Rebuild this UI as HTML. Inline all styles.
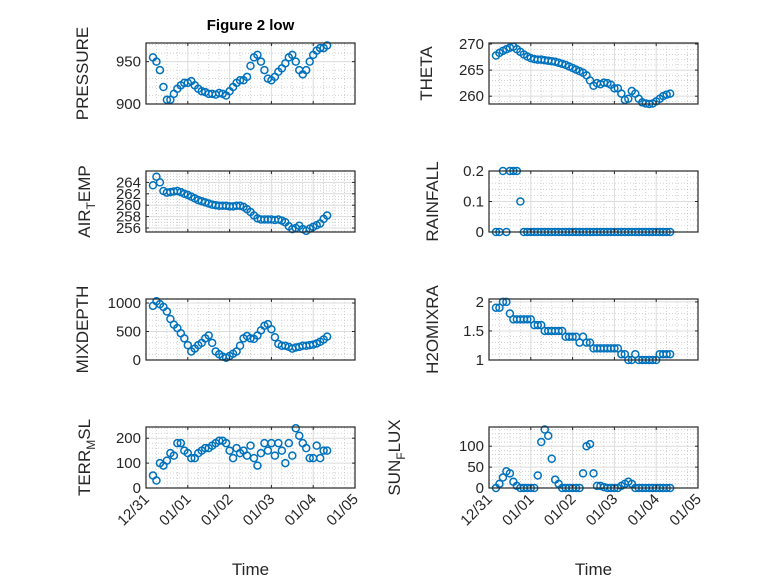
<!DOCTYPE html>
<html><head><meta charset="utf-8"><style>
html,body{margin:0;padding:0;background:#fff;}
svg{display:block;font-family:"Liberation Sans","DejaVu Sans",sans-serif;}
</style></head><body>
<svg id="fig" width="778" height="583" viewBox="0 0 778 583" xmlns="http://www.w3.org/2000/svg">
<rect width="778" height="583" fill="#fff"/>
</svg>
<script>
// shared time axis (hours since 12/31 00:00)
const hours = [4,6,8,10,12,14,16,18,20,22,24,26,28,30,32,34,36,38,40,42,44,46,48,50,52,54,56,58,60,62,64,66,68,70,72,74,76,78,80,82,84,86,88,90,92,94,96,98,100,102,104];
const xTickLabels = ["12/31","01/01","01/02","01/03","01/04","01/05"];
const xTickHours = [0,24,48,72,96,120];
const pressure = [955,950,940,920,905,905,912,918,922,925,925,927,922,918,915,914,912,912,911,913,912,910,915,920,925,928,928,932,945,955,958,950,940,930,928,932,938,942,948,955,958,950,940,935,940,950,958,963,966,966,969];
const airTemp = [263.5,265,264,262.5,262.2,262.3,262.4,262.5,262.3,262,261.8,261.5,261.2,260.9,260.7,260.5,260.3,260.1,260,259.9,259.9,259.9,259.8,259.8,259.9,259.9,259.7,259.3,258.8,258.2,257.7,257.5,257.5,257.5,257.5,257.4,257.5,257.3,257,256.3,255.8,256,256.4,255.8,255.5,255.9,256.2,256.5,256.8,257.6,258.2];
const theta = [267.8,268.3,268.7,269,269.3,269.5,269,268.5,268,267.6,267.3,267.1,267,267,266.9,266.8,266.7,266.6,266.4,266.2,266,265.7,265.4,265.1,264.8,264.5,264,263,262,262.5,262.3,262.6,262.5,262.2,261.5,261.5,260.5,259.3,259.5,261,260.5,259.5,258.8,258.6,258.5,258.6,259,259.5,260,260.3,260.5];
const rainfall = [0,0,0.2,0,0.2,0.2,0.2,0.1,0,0,0,0,0,0,0,0,0,0,0,0,0,0,0,0,0,0,0,0,0,0,0,0,0,0,0,0,0,0,0,0,0,0,0,0,0,0,0,0,0,0,0];
const mixDepth = [950,1030,980,930,850,720,620,560,470,380,260,150,200,260,300,380,430,300,150,100,60,40,70,110,150,250,380,420,380,370,430,520,600,630,540,400,280,250,250,230,200,220,230,250,250,260,270,290,320,360,410];
const h2oMix = [1.9,1.9,2.0,2.0,1.8,1.7,1.7,1.7,1.7,1.7,1.7,1.6,1.6,1.6,1.5,1.5,1.5,1.5,1.5,1.5,1.4,1.4,1.4,1.4,1.3,1.4,1.3,1.3,1.2,1.2,1.2,1.2,1.2,1.2,1.2,1.2,1.1,1.1,1.0,1.0,1.1,1.0,1.0,1.0,1.0,1.0,1.0,1.1,1.1,1.1,1.1];
const terrMsl = [50,30,100,90,110,140,130,180,180,150,140,120,120,140,150,160,160,170,180,190,190,180,150,120,160,140,150,130,170,120,90,140,180,150,180,130,180,150,100,180,130,240,210,180,160,120,120,170,120,150,150];
const sunFlux = [0,10,25,40,35,15,5,0,0,0,0,0,30,110,140,125,70,20,10,0,0,0,0,0,0,35,100,105,35,5,5,2,0,0,0,0,5,10,15,10,0,0,0,0,0,0,0,0,0,0,0];

const NS = "http://www.w3.org/2000/svg";
const svg = document.getElementById('fig');
function mk(tag, attrs, parent){const e=document.createElementNS(NS,tag);for(const k in attrs)e.setAttribute(k,attrs[k]);(parent||svg).appendChild(e);return e;}

const panels = [
 {name:'pressure',x:146,y:43,data:pressure,ylim:[900,972],ticks:[900,950],minor:10,label:['PRESSURE'],lx:88,xlab:false},
 {name:'theta',x:489,y:43,data:theta,ylim:[258.5,270.2],ticks:[260,265,270],minor:1,label:['THETA'],lx:432,xlab:false},
 {name:'air-temp',x:146,y:171,data:airTemp,ylim:[255.3,266],ticks:[256,258,260,262,264],minor:0.5,label:['AIR','T','EMP'],lx:90,xlab:false},
 {name:'rainfall',x:489,y:171,data:rainfall,ylim:[0,0.2],ticks:[0,0.1,0.2],minor:0.02,label:['RAINFALL'],lx:438,xlab:false},
 {name:'mixdepth',x:146,y:299,data:mixDepth,ylim:[0,1070],ticks:[0,500,1000],minor:100,label:['MIXDEPTH'],lx:88,xlab:false},
 {name:'h2omixra',x:489,y:299,data:h2oMix,ylim:[1,2.05],ticks:[1,1.5,2],minor:0.1,label:['H2OMIXRA'],lx:438,xlab:false},
 {name:'terr-msl',x:146,y:427,data:terrMsl,ylim:[0,245],ticks:[0,100,200],minor:20,label:['TERR','M','SL'],lx:90,xlab:true},
 {name:'sun-flux',x:489,y:427,data:sunFlux,ylim:[0,146],ticks:[0,50,100],minor:10,label:['SUN','F','LUX'],lx:400,xlab:true}
];
const W=209,H=61;
panels.forEach(p=>{
  const g=mk('g',{});
  
  
  const xs=h=>p.x+h/120*W;
  const ys=v=>p.y+H-(v-p.ylim[0])/(p.ylim[1]-p.ylim[0])*H;
  for(let h=0;h<=120;h+=6){ if(h%24===0)continue; mk('line',{x1:xs(h),x2:xs(h),y1:p.y,y2:p.y+H,stroke:'#c8c8c8','stroke-width':0.8,'stroke-dasharray':'1 2'},g);}
  const m0=Math.ceil(p.ylim[0]/p.minor-1e-6);
  for(let k=m0;k*p.minor<=p.ylim[1]+1e-9;k++){const v=k*p.minor; if(p.ticks.some(t=>Math.abs(t-v)<1e-6))continue; mk('line',{x1:p.x,x2:p.x+W,y1:ys(v),y2:ys(v),stroke:'#c8c8c8','stroke-width':0.8,'stroke-dasharray':'1 2'},g);}
  xTickHours.forEach(h=>mk('line',{x1:xs(h),x2:xs(h),y1:p.y,y2:p.y+H,stroke:'#dcdcdc','stroke-width':1},g));
  p.ticks.forEach(v=>mk('line',{x1:p.x,x2:p.x+W,y1:ys(v),y2:ys(v),stroke:'#dcdcdc','stroke-width':1},g));
  p.data.forEach((v,i)=>{
    const c=mk('circle',{cx:xs(hours[i]),cy:ys(v),r:3.5,fill:'none',stroke:'#0072BD','stroke-width':1.5},g);
    
    
  });
  mk('rect',{x:p.x,y:p.y,width:W,height:H,fill:'none',stroke:'#262626','stroke-width':1.2},g);
  xTickHours.forEach(h=>{mk('line',{x1:xs(h),x2:xs(h),y1:p.y+H,y2:p.y+H-3,stroke:'#262626'},g);mk('line',{x1:xs(h),x2:xs(h),y1:p.y,y2:p.y+3,stroke:'#262626'},g);});
  p.ticks.forEach(v=>{
    mk('line',{x1:p.x,x2:p.x+3,y1:ys(v),y2:ys(v),stroke:'#262626'},g);
    mk('line',{x1:p.x+W,x2:p.x+W-3,y1:ys(v),y2:ys(v),stroke:'#262626'},g);
    const t=mk('text',{x:p.x-5,y:ys(v)+5,'text-anchor':'end','font-size':15,fill:'#262626'},g);
    t.textContent=String(v);
    
    
  });
  const cy=p.y+H/2;
  const yl=mk('text',{x:p.lx,y:cy,'text-anchor':'middle','font-size':17,fill:'#262626',transform:`rotate(-90 ${p.lx} ${cy})`},g);
  
  
  if(p.label.length===1){ yl.textContent=p.label[0]; }
  else{
    const a=mk('tspan',{},yl); a.textContent=p.label[0];
    const b=mk('tspan',{dy:5,'font-size':12},yl); b.textContent=p.label[1];
    const c=mk('tspan',{dy:-5},yl); c.textContent=p.label[2];
  }
  if(p.xlab){
    xTickHours.forEach((h,i)=>{
      const tx=xs(h)+4, ty=p.y+H+12;
      const t=mk('text',{x:tx,y:ty,'text-anchor':'end','font-size':15,fill:'#262626',transform:`rotate(-45 ${tx} ${ty})`},g);
      t.textContent=xTickLabels[i];
      
      
    });
    const tl=mk('text',{x:p.x+W/2,y:575,'text-anchor':'middle','font-size':17,fill:'#262626'},g);
    tl.textContent='Time';
    
    
  }
});
const title=mk('text',{x:250.5,y:30,'text-anchor':'middle','font-size':15,'font-weight':'bold',fill:'#000'});
title.textContent='Figure 2 low';


</script>
</body></html>
